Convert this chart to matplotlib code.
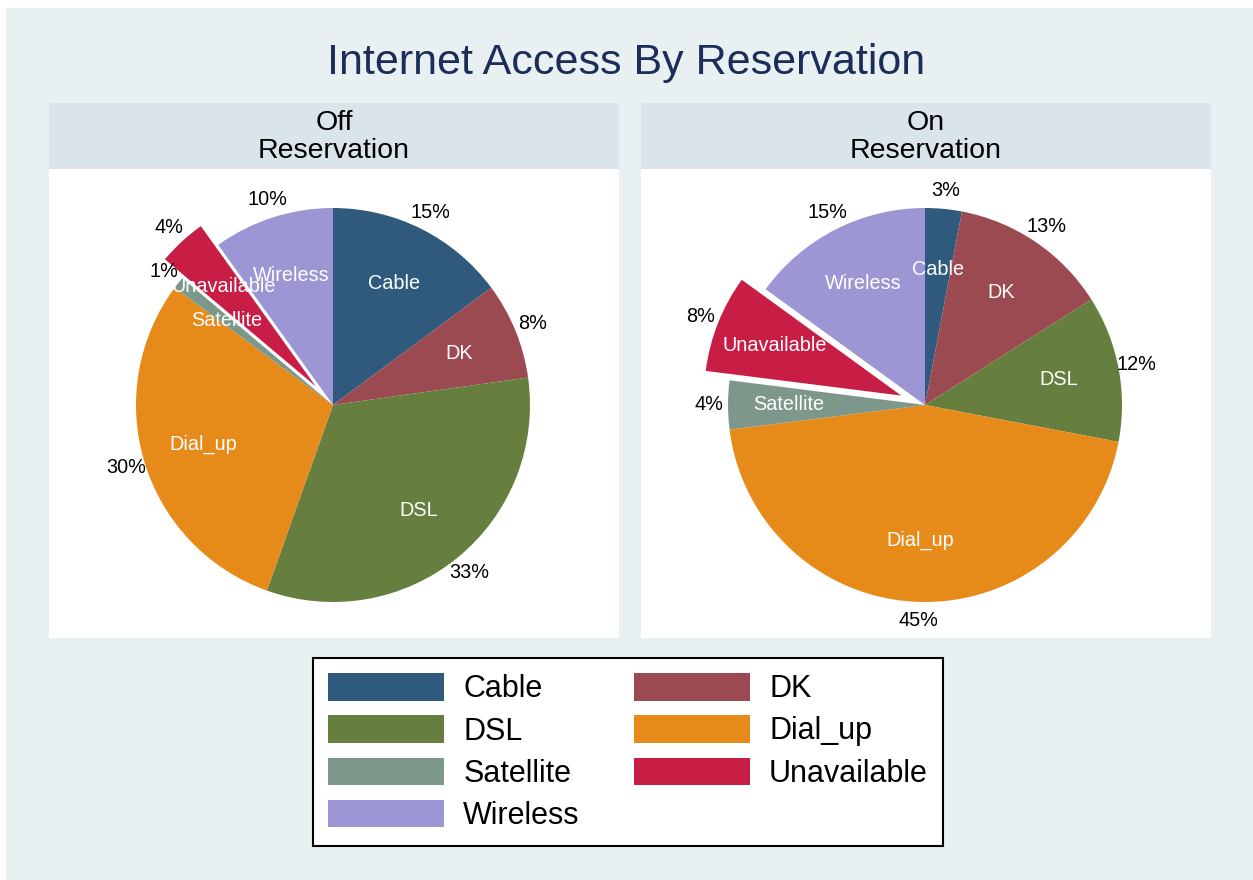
import matplotlib
matplotlib.use("Agg")
import matplotlib.pyplot as plt
from matplotlib.patches import Rectangle, Patch

plt.rcParams['font.family'] = ['Liberation Sans', 'DejaVu Sans']

categories = ["Cable", "DK", "DSL", "Dial_up", "Satellite", "Unavailable", "Wireless"]
off_values = [15, 8, 33, 30, 1, 4, 10]
on_values = [3, 13, 12, 45, 4, 8, 15]
panel_titles = ["Off\nReservation", "On\nReservation"]
title = "Internet Access By Reservation"
colors = ["#2f5a7e", "#9a4a50", "#667f3f", "#e68a1a", "#7d988b", "#c81e46", "#9d96d4"]
explode_cat = "Unavailable"

W, H = 1253, 880
fig = plt.figure(figsize=(W / 100, H / 100), dpi=100, facecolor="white")

def fx(px):
    return px / W

def fy(py):
    return 1 - py / H

# outer background
fig.patches.append(Rectangle((fx(6), 0), 1 - fx(6), fy(8), transform=fig.transFigure,
                             facecolor="#e8f0f2", edgecolor="none", zorder=-10))

fig.text(0.5, fy(63), title, ha="center", va="center", fontsize=31, color="#1c2d5a")

radius_px = 197
panels = [(49, 619), (641, 1211)]
strip_top, strip_bot, plot_bot = 103, 169, 638

for (x0, x1), vals, ptitle in zip(panels, [off_values, on_values], panel_titles):
    # strip
    fig.patches.append(Rectangle((fx(x0), fy(strip_bot)), fx(x1 - x0), (strip_bot - strip_top) / H,
                                 transform=fig.transFigure, facecolor="#d9e5eb",
                                 edgecolor="none", zorder=-5))
    fig.text(fx((x0 + x1) / 2), fy((strip_top + strip_bot) / 2 + 1), ptitle, ha="center",
             va="center", fontsize=20.5, color="black", linespacing=1.1)
    ax = fig.add_axes([fx(x0), fy(plot_bot), fx(x1 - x0), (plot_bot - strip_bot) / H])
    ax.set_facecolor("white")
    cx_px = 284
    cy_px = 405 - strip_bot
    w_px = x1 - x0
    h_px = plot_bot - strip_bot
    explode = [0.13 if c == explode_cat else 0 for c in categories]
    total = sum(vals)
    wedges, texts, autotexts = ax.pie(
        vals, labels=categories, colors=colors, explode=explode, startangle=90,
        counterclock=False, labeldistance=0.69, pctdistance=1.095,
        autopct=lambda p, total=total: f"{p * total / 100:.0f}%",
        wedgeprops=dict(linewidth=0), radius=1, frame=True,
        textprops=dict(fontsize=14.3))
    ax.set_xlim(-cx_px / radius_px, (w_px - cx_px) / radius_px)
    ax.set_ylim(-(h_px - cy_px) / radius_px, cy_px / radius_px)
    ax.set_aspect("auto")
    ax.set_xticks([])
    ax.set_yticks([])
    for s in ax.spines.values():
        s.set_visible(False)
    for t in texts:
        t.set_ha("center")
        t.set_va("center")
        t.set_color("white")
    for t in autotexts:
        t.set_color("black")

# legend
handles = [Patch(facecolor=c, edgecolor="none") for c in colors]
order = [0, 2, 4, 6, 1, 3, 5]
leg = fig.legend([handles[i] for i in order], [categories[i] for i in order],
                 ncol=2, loc="center", bbox_to_anchor=(fx(628), fy(752)),
                 fontsize=22, frameon=True, fancybox=False, edgecolor="black",
                 framealpha=1.0,
                 handlelength=3.8, handleheight=1.0, handletextpad=0.62,
                 columnspacing=1.78, labelspacing=0.36, borderpad=0.5)
leg.get_frame().set_linewidth(1.5)
leg.get_frame().set_facecolor("white")

fig.savefig("out.png", dpi=100, facecolor=fig.get_facecolor())
